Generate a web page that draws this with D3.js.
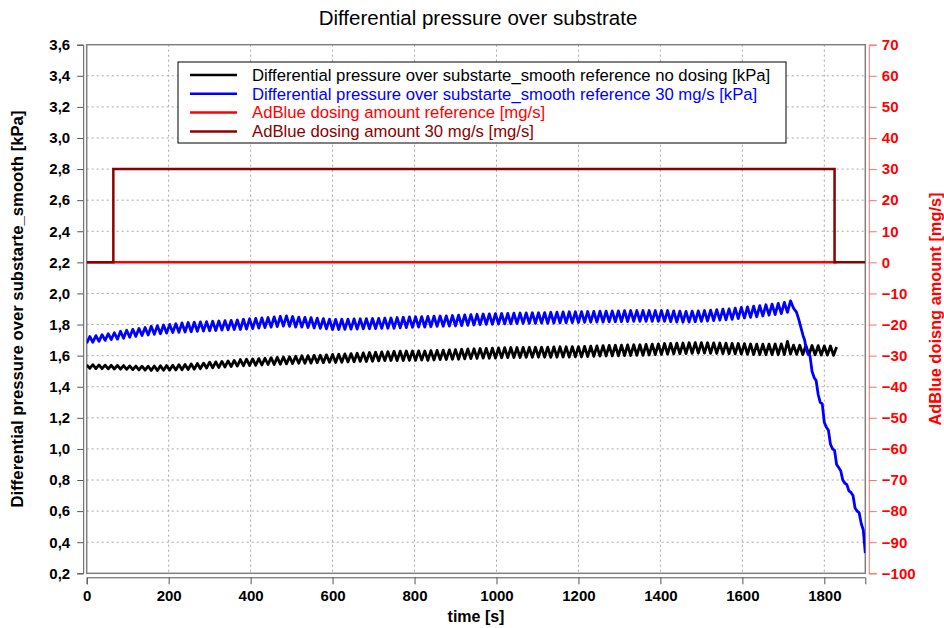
<!DOCTYPE html>
<html>
<head>
<meta charset="utf-8">
<script src="https://cdn.jsdelivr.net/npm/d3@7"></script>
<style>
	body { margin: 0; background: #fff; }
	text { font-family: "Liberation Sans", Arial, sans-serif; }
</style>
</head>
<body>
<div id="chart-area"></div>
<script>
// sample interval of the logged pressure signals [s]
var sampleStep = 7.5;

var xTicks = [0, 200, 400, 600, 800, 1000, 1200, 1400, 1600, 1800];
var leftTicks = [0.2, 0.4, 0.6, 0.8, 1.0, 1.2, 1.4, 1.6, 1.8, 2.0, 2.2, 2.4, 2.6, 2.8, 3.0, 3.2, 3.4, 3.6];
var rightTicks = [-100, -90, -80, -70, -60, -50, -40, -30, -20, -10, 0, 10, 20, 30, 40, 50, 60, 70];

// differential pressure, reference without dosing [kPa], one value per sampleStep from t = 0
var pressureNoDosing = [
	1.540, 1.518, 1.542, 1.517, 1.540, 1.516, 1.539, 1.515, 1.538, 1.514,
	1.537, 1.513, 1.536, 1.512, 1.534, 1.510, 1.533, 1.508, 1.532, 1.507,
	1.532, 1.505, 1.533, 1.504, 1.535, 1.506, 1.536, 1.507, 1.538, 1.508,
	1.541, 1.509, 1.543, 1.511, 1.546, 1.513, 1.549, 1.516, 1.552, 1.520,
	1.558, 1.522, 1.560, 1.524, 1.563, 1.527, 1.566, 1.530, 1.569, 1.533,
	1.575, 1.535, 1.577, 1.537, 1.579, 1.538, 1.581, 1.540, 1.583, 1.543,
	1.587, 1.543, 1.589, 1.545, 1.591, 1.547, 1.593, 1.549, 1.596, 1.551,
	1.599, 1.551, 1.600, 1.552, 1.602, 1.554, 1.603, 1.555, 1.605, 1.557,
	1.608, 1.556, 1.609, 1.557, 1.611, 1.559, 1.613, 1.561, 1.615, 1.563,
	1.618, 1.562, 1.620, 1.564, 1.622, 1.566, 1.624, 1.568, 1.625, 1.569,
	1.628, 1.568, 1.629, 1.569, 1.630, 1.570, 1.630, 1.570, 1.631, 1.571,
	1.630, 1.570, 1.632, 1.572, 1.634, 1.574, 1.635, 1.575, 1.637, 1.577,
	1.639, 1.577, 1.641, 1.579, 1.643, 1.581, 1.644, 1.582, 1.646, 1.584,
	1.647, 1.583, 1.648, 1.584, 1.650, 1.586, 1.651, 1.587, 1.652, 1.588,
	1.652, 1.588, 1.653, 1.589, 1.653, 1.589, 1.654, 1.590, 1.654, 1.590,
	1.655, 1.589, 1.656, 1.590, 1.657, 1.591, 1.657, 1.591, 1.658, 1.592,
	1.658, 1.592, 1.660, 1.594, 1.661, 1.595, 1.663, 1.597, 1.664, 1.598,
	1.666, 1.598, 1.667, 1.599, 1.668, 1.600, 1.669, 1.601, 1.670, 1.602,
	1.670, 1.602, 1.672, 1.604, 1.674, 1.606, 1.676, 1.608, 1.678, 1.610,
	1.679, 1.611, 1.680, 1.612, 1.681, 1.613, 1.683, 1.615, 1.684, 1.616,
	1.684, 1.616, 1.683, 1.615, 1.682, 1.614, 1.681, 1.613, 1.680, 1.612,
	1.679, 1.611, 1.678, 1.610, 1.677, 1.609, 1.675, 1.607, 1.674, 1.606,
	1.674, 1.606, 1.674, 1.606, 1.675, 1.606, 1.676, 1.607, 1.692, 1.610,
	1.668, 1.608, 1.667, 1.607, 1.666, 1.606, 1.665, 1.605, 1.664, 1.604,
	1.663, 1.603, 1.662, 1.602, 1.655
];

// differential pressure, 30 mg/s dosing [kPa], one value per sampleStep from t = 0
var pressureDosing30 = [
	1.680, 1.723, 1.686, 1.729, 1.692, 1.735, 1.698, 1.741, 1.704, 1.747,
	1.706, 1.757, 1.712, 1.763, 1.718, 1.769, 1.724, 1.775, 1.730, 1.781,
	1.733, 1.789, 1.737, 1.793, 1.741, 1.797, 1.745, 1.801, 1.749, 1.805,
	1.750, 1.811, 1.752, 1.813, 1.754, 1.815, 1.756, 1.817, 1.758, 1.819,
	1.760, 1.821, 1.762, 1.823, 1.764, 1.825, 1.766, 1.827, 1.768, 1.829,
	1.768, 1.834, 1.771, 1.837, 1.774, 1.840, 1.777, 1.843, 1.780, 1.845,
	1.783, 1.849, 1.787, 1.853, 1.790, 1.856, 1.788, 1.852, 1.784, 1.848,
	1.783, 1.846, 1.781, 1.844, 1.778, 1.841, 1.775, 1.838, 1.772, 1.834,
	1.767, 1.833, 1.768, 1.834, 1.769, 1.835, 1.770, 1.836, 1.771, 1.837,
	1.772, 1.838, 1.773, 1.839, 1.774, 1.840, 1.775, 1.841, 1.776, 1.842,
	1.776, 1.845, 1.778, 1.847, 1.780, 1.849, 1.782, 1.850, 1.783, 1.851,
	1.784, 1.852, 1.786, 1.854, 1.788, 1.855, 1.789, 1.856, 1.790, 1.858,
	1.791, 1.860, 1.793, 1.862, 1.795, 1.864, 1.797, 1.866, 1.799, 1.868,
	1.801, 1.869, 1.802, 1.870, 1.803, 1.871, 1.804, 1.872, 1.805, 1.873,
	1.806, 1.874, 1.807, 1.875, 1.808, 1.876, 1.808, 1.876, 1.809, 1.877,
	1.808, 1.879, 1.809, 1.880, 1.810, 1.881, 1.811, 1.882, 1.812, 1.882,
	1.813, 1.883, 1.814, 1.884, 1.815, 1.885, 1.816, 1.886, 1.816, 1.886,
	1.817, 1.887, 1.818, 1.888, 1.818, 1.889, 1.819, 1.890, 1.820, 1.890,
	1.820, 1.890, 1.820, 1.890, 1.820, 1.890, 1.820, 1.890, 1.820, 1.890,
	1.818, 1.888, 1.816, 1.886, 1.815, 1.885, 1.816, 1.886, 1.818, 1.888,
	1.820, 1.890, 1.822, 1.893, 1.825, 1.896, 1.828, 1.899, 1.830, 1.901,
	1.833, 1.905, 1.838, 1.910, 1.842, 1.914, 1.846, 1.918, 1.850, 1.922,
	1.855, 1.927, 1.860, 1.931, 1.864, 1.936, 1.870, 1.942, 1.878, 1.952
];

// end of the 30 mg/s run, where the pressure falls away [s] / [kPa]
var dropTime = [1725, 1732, 1738, 1742, 1748, 1752, 1756, 1760, 1765, 1770, 1775, 1780, 1785, 1790, 1795, 1800, 1805, 1810, 1815, 1820, 1825, 1830, 1835, 1840, 1845, 1850, 1855, 1860, 1865, 1870, 1875, 1880, 1885, 1890, 1895, 1900];
var dropValue = [1.905, 1.880, 1.830, 1.790, 1.730, 1.700, 1.640, 1.610, 1.600, 1.500, 1.460, 1.440, 1.350, 1.300, 1.290, 1.170, 1.140, 1.120, 1.030, 1.000, 0.990, 0.900, 0.880, 0.860, 0.800, 0.780, 0.770, 0.730, 0.720, 0.700, 0.620, 0.600, 0.590, 0.520, 0.480, 0.330];

// AdBlue dosing amount [mg/s], step signals
var refDosingTime = [0, 1830];
var refDosingValue = [0, 0];
var dosing30Time = [0, 65, 1825, 1900];
var dosing30Value = [0, 30, 0, 0];

var legendNames = [
	"Differential pressure over substarte_smooth reference no dosing [kPa]",
	"Differential pressure over substarte_smooth reference 30 mg/s [kPa]",
	"AdBlue dosing amount reference [mg/s]",
	"AdBlue dosing amount 30 mg/s [mg/s]"
];
var legendColors = ["#000000", "#0000ff", "#ff0000", "#8b0000"];

var width = 944;
var height = 628;
var margin = {top: 44.7, right: 78.7, bottom: 54.7, left: 86.7};
var plotW = width - margin.left - margin.right;
var plotH = height - margin.top - margin.bottom;

var svg = d3.select("#chart-area").append("svg")
	.attr("width", width)
	.attr("height", height);

var g = svg.append("g")
	.attr("transform", "translate(" + margin.left + ", " + margin.top + ")");

var x = d3.scaleLinear().domain([0, 1900]).range([0, plotW]);
var y = d3.scaleLinear().domain([0.2, 3.6]).range([plotH, 0]);
var y2 = d3.scaleLinear().domain([-100, 70]).range([plotH, 0]);

var comma = d3.formatLocale({decimal: ",", thousands: ".", grouping: [3], currency: ["", ""]});
var fmtLeft = comma.format(".1f");

// grid
g.append("g").selectAll("line.vgrid")
	.data(xTicks.slice(1))
	.enter().append("line")
		.attr("x1", d => x(d)).attr("x2", d => x(d))
		.attr("y1", 0).attr("y2", plotH)
		.attr("stroke", "#a8a8a8")
		.attr("stroke-dasharray", "2,3");
g.append("g").selectAll("line.hgrid")
	.data(leftTicks.slice(1, -1))
	.enter().append("line")
		.attr("x1", 0).attr("x2", plotW)
		.attr("y1", d => y(d)).attr("y2", d => y(d))
		.attr("stroke", "#a8a8a8")
		.attr("stroke-dasharray", "2,3");

// plot frame
g.append("rect")
	.attr("width", plotW)
	.attr("height", plotH)
	.attr("fill", "none")
	.attr("stroke", "#808080")
	.attr("stroke-width", 1.5);

// axes
var leftAxis = d3.axisLeft(y).tickValues(leftTicks).tickFormat(fmtLeft).tickSizeOuter(0).tickSize(6).tickPadding(7);
g.append("g")
	.attr("class", "leftAxis")
	.attr("transform", "translate(-3.5, 0)")
	.call(leftAxis);

var bottomAxis = d3.axisBottom(x).tickValues(xTicks).tickFormat(d3.format("d")).tickSizeOuter(0).tickSize(7).tickPadding(6);
g.append("g")
	.attr("class", "bottomAxis")
	.attr("transform", "translate(0, " + (plotH + 4) + ")")
	.call(bottomAxis);

var rightAxis = d3.axisRight(y2).tickValues(rightTicks).tickFormat(d3.format("d")).tickSizeOuter(0).tickSize(8).tickPadding(5);
g.append("g")
	.attr("class", "rightAxis")
	.attr("transform", "translate(" + (plotW + 3.5) + ", 0)")
	.call(rightAxis);

svg.selectAll(".leftAxis path, .leftAxis line, .bottomAxis path, .bottomAxis line")
	.attr("stroke", "#555");
svg.selectAll(".rightAxis path, .rightAxis line")
	.attr("stroke", "#ff7070");
svg.selectAll(".tick text")
	.attr("font-size", "15px")
	.attr("font-weight", "bold")
	.attr("fill", "#000");
svg.selectAll(".rightAxis .tick text")
	.attr("fill", "#ff0000");

// lines
g.append("clipPath").attr("id", "clip")
	.append("rect").attr("width", plotW).attr("height", plotH);

var plot = g.append("g").attr("clip-path", "url(#clip)");

var line = d3.line()
	.x(d => x(d[0]))
	.y(d => y(d[1]));

var blackPts = pressureNoDosing.map((v, i) => [i * sampleStep, v]);
var bluePts = pressureDosing30.map((v, i) => [i * sampleStep, v])
	.concat(dropTime.map((t, i) => [t, dropValue[i]]));
var redPts = refDosingTime.map((t, i) => [t, refDosingValue[i]]);
var darkPts = dosing30Time.map((t, i) => [t, dosing30Value[i]]);

var stepLine = d3.line()
	.x(d => x(d[0]))
	.y(d => y2(d[1]))
	.curve(d3.curveStepAfter);

plot.append("path").attr("d", line(blackPts))
	.attr("fill", "none").attr("stroke", legendColors[0]).attr("stroke-width", 2.8).attr("stroke-linejoin", "round");
plot.append("path").attr("d", line(bluePts))
	.attr("fill", "none").attr("stroke", legendColors[1]).attr("stroke-width", 2.8).attr("stroke-linejoin", "round");
plot.append("path").attr("d", stepLine(redPts))
	.attr("fill", "none").attr("stroke", legendColors[2]).attr("stroke-width", 2.5);
plot.append("path").attr("d", stepLine(darkPts))
	.attr("fill", "none").attr("stroke", legendColors[3]).attr("stroke-width", 2.5);

// legend
var legend = svg.append("g").attr("transform", "translate(178, 62)");
legend.append("rect")
	.attr("width", 608)
	.attr("height", 81)
	.attr("fill", "#fff")
	.attr("stroke", "#000")
	.attr("stroke-width", 1);
var rows = legend.selectAll("g.row")
	.data(legendNames)
	.enter().append("g")
		.attr("transform", (d, i) => "translate(0, " + (13 + i * 18.8) + ")");
rows.append("line")
	.attr("x1", 12).attr("x2", 59)
	.attr("stroke", (d, i) => legendColors[i])
	.attr("stroke-width", 2.5);
rows.append("text")
	.attr("x", 74)
	.attr("dy", "0.35em")
	.attr("font-size", "16.7px")
	.attr("fill", (d, i) => legendColors[i])
	.text(d => d);

// titles
svg.append("text")
	.attr("x", 478)
	.attr("y", 25)
	.attr("text-anchor", "middle")
	.attr("font-size", "20.5px")
	.text("Differential pressure over substrate");

svg.append("text")
	.attr("x", margin.left + x(950))
	.attr("y", 622)
	.attr("text-anchor", "middle")
	.attr("font-size", "16px")
	.attr("font-weight", "bold")
	.text("time [s]");

svg.append("text")
	.attr("transform", "translate(23, " + (margin.top + plotH / 2) + ") rotate(-90)")
	.attr("text-anchor", "middle")
	.attr("font-size", "16.7px")
	.attr("font-weight", "bold")
	.text("Differential pressure over substarte_smooth [kPa]");

svg.append("text")
	.attr("transform", "translate(941, " + (margin.top + plotH / 2) + ") rotate(-90)")
	.attr("text-anchor", "middle")
	.attr("font-size", "16.4px")
	.attr("font-weight", "bold")
	.attr("fill", "#ff0000")
	.text("AdBlue doisng amount [mg/s]");
</script>
</body>
</html>
